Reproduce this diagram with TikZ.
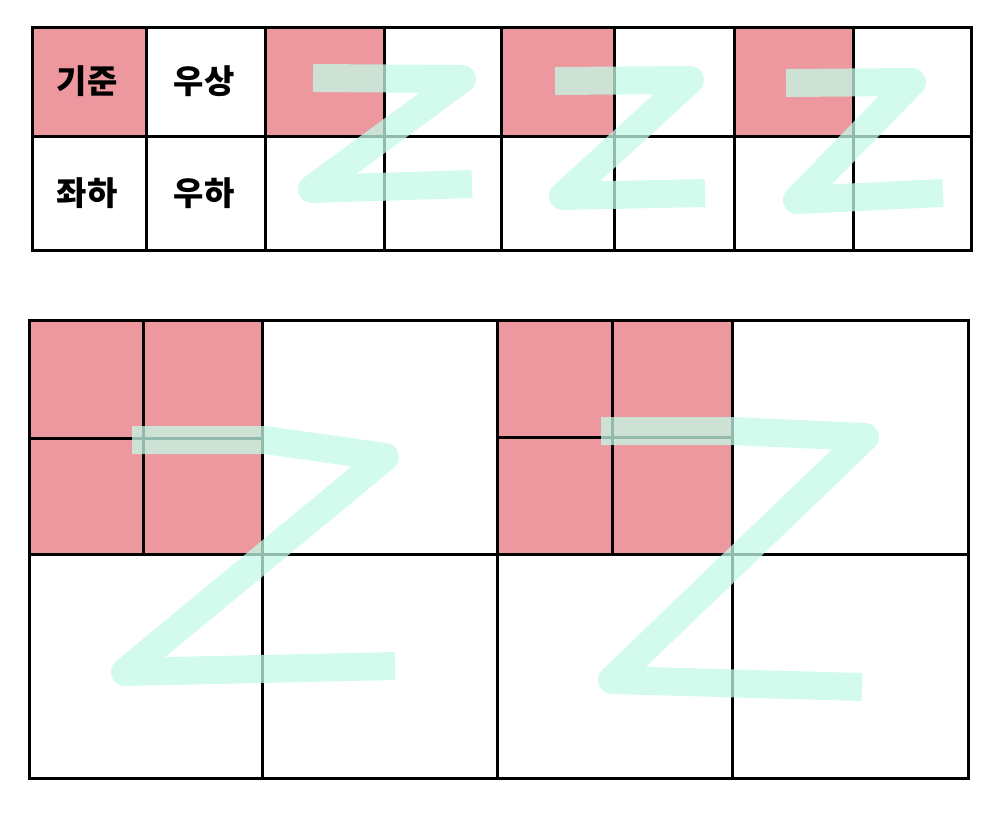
\documentclass[tikz,border=0pt]{standalone}
\usepackage{fontspec}
\newfontfamily\krfont{Noto Sans CJK KR}
\definecolor{cellpink}{RGB}{236,152,158}
\definecolor{zmint}{RGB}{195,250,232}
\tikzset{
  pinkcell/.style={fill=cellpink},
  gridline/.style={line width=3pt, line cap=rect},
  zstroke/.style={draw=zmint, draw opacity=0.75, line width=28pt, line join=round},
  celltext/.style={font=\krfont\bfseries\fontsize{33}{36}\selectfont}
}
\begin{document}
\begin{tikzpicture}[x=1pt,y=-1pt]
			\useasboundingbox (0,0) rectangle (998,812);
			% pink blocks
			\fill[pinkcell] (32,27) rectangle (146,136);
			\fill[pinkcell] (265,27) rectangle (384,136);
			\fill[pinkcell] (501,27) rectangle (614,136);
			\fill[pinkcell] (734,27) rectangle (853,136);
			\fill[pinkcell] (29,320) rectangle (262,554);
			\fill[pinkcell] (497,320) rectangle (732,554);
			% top grid
			\foreach \y in {27,136,250} \draw[gridline] (32,\y) -- (971,\y);
			\foreach \x in {32,146,265,384,501,614,734,853,971} \draw[gridline] (\x,27) -- (\x,250);
			% bottom grid
			\draw[gridline] (29,320) rectangle (968,778);
			\draw[gridline] (29,554) -- (968,554);
			\foreach \x in {262,497,732} \draw[gridline] (\x,320) -- (\x,778);
			\foreach \x in {143,612} \draw[gridline] (\x,320) -- (\x,554);
			\draw[gridline] (29,438) -- (262,438);
			\draw[gridline] (497,437) -- (732,437);
			% labels
			\draw(87,81) node[celltext] (base) {기준};
			\draw(204,81) node[celltext] (topright) {우상};
			\draw(87,193) node[celltext] (bottomleft) {좌하};
			\draw(204,193) node[celltext] (bottomright) {우하};
			% z order strokes
			\draw[zstroke] (313,78) -- (462,79) -- (312,189) -- (472,184);
			\draw[zstroke] (555,81) -- (690,80) -- (563,196) -- (705,193);
			\draw[zstroke] (786,83) -- (912,82) -- (797,200) -- (943,193);
			\draw[zstroke] (132,440) -- (265,440) -- (385,457) -- (125,672) -- (395,666);
			\draw[zstroke] (601,431) -- (732,431) -- (865,437) -- (612,680) -- (862,687);
		\end{tikzpicture}
\end{document}
